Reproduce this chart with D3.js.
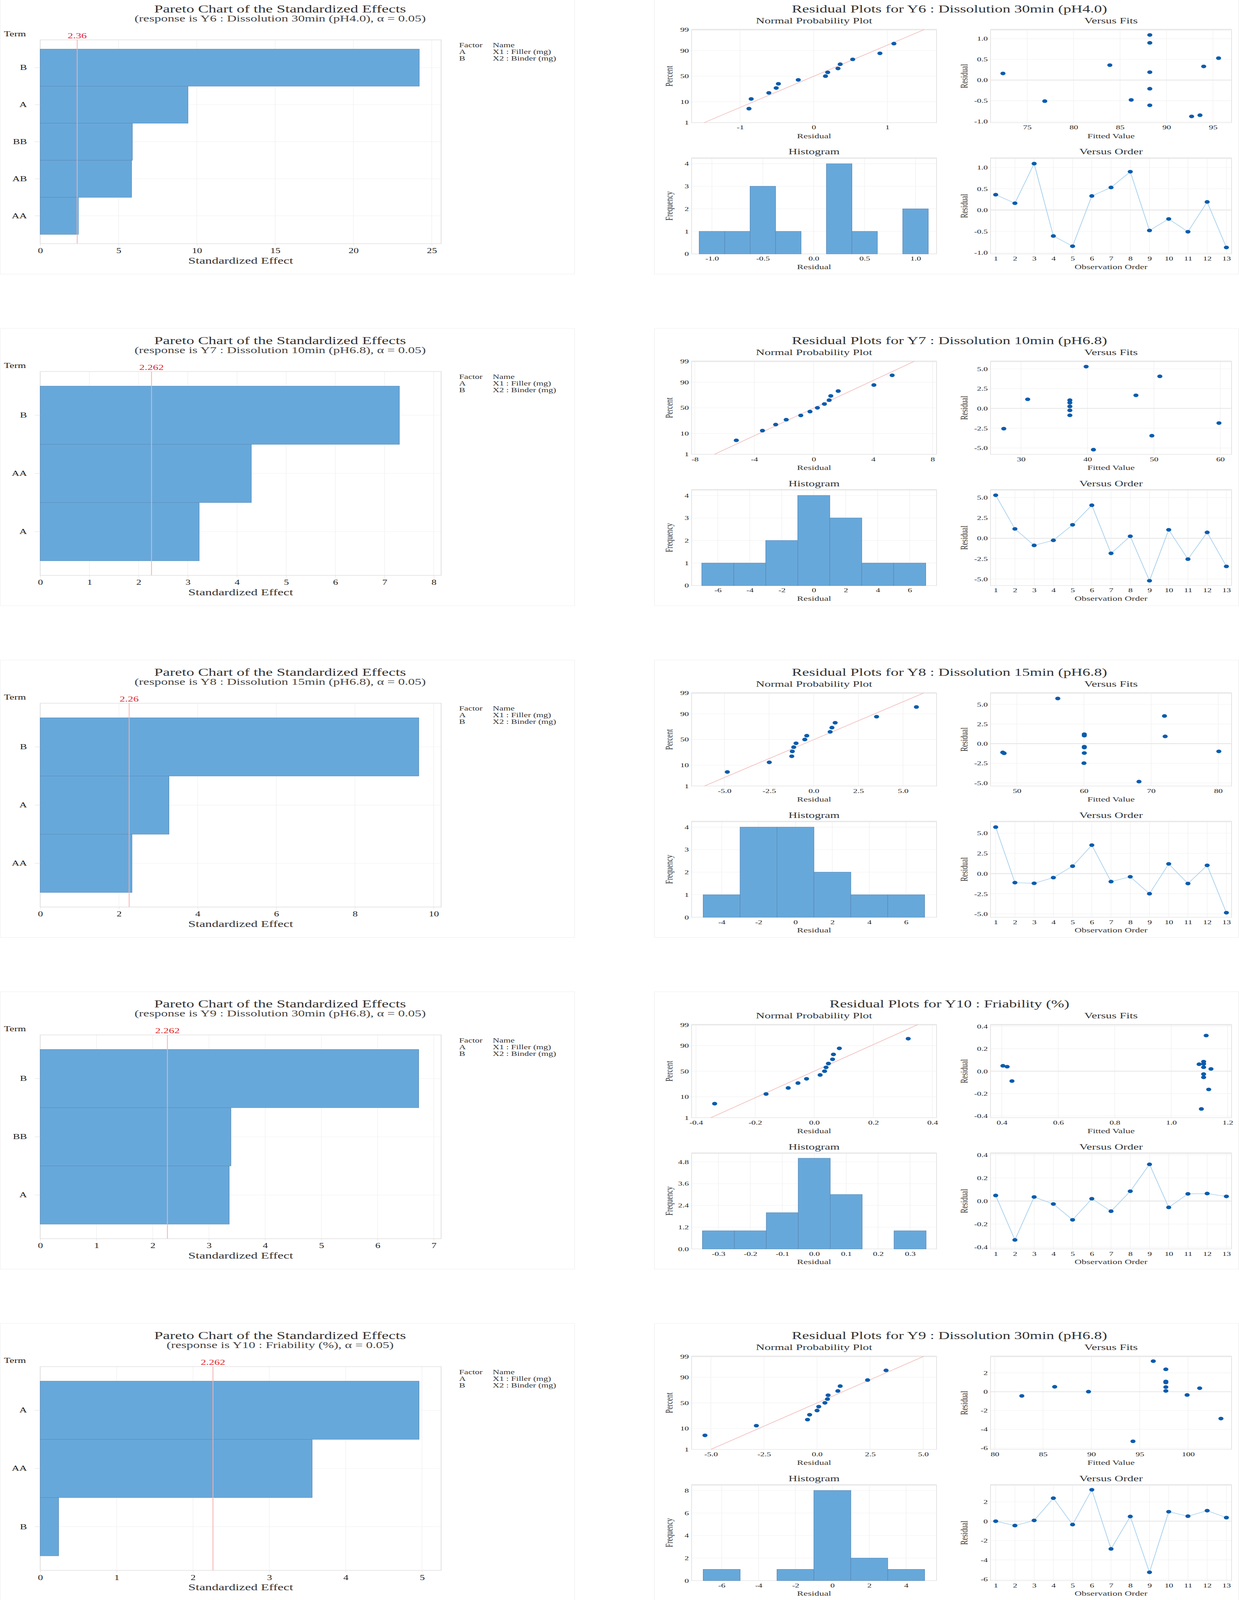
<!DOCTYPE html>
<html>
<head>
<meta charset="utf-8">
<script src="https://cdn.jsdelivr.net/npm/d3@7"></script>
<style>
html,body{margin:0;padding:0;background:#fff;overflow:hidden}
svg{display:block}
svg text{font-family:"Liberation Serif","Times New Roman",serif}
</style>
</head>
<body>
<script>
// ---- pareto charts (left column) ----
var paretoResponses=["Y6 : Dissolution 30min (pH4.0)","Y7 : Dissolution 10min (pH6.8)","Y8 : Dissolution 15min (pH6.8)","Y9 : Dissolution 30min (pH6.8)","Y10 : Friability (%)"];
var paretoTerms=[["B","A","BB","AB","AA"],["B","AA","A"],["B","A","AA"],["B","BB","A"],["A","AA","B"]];
var paretoEffects=[[24.2,9.43,5.88,5.83,2.43],[7.30,4.29,3.23],[9.62,3.27,2.33],[6.73,3.39,3.36],[4.96,3.56,0.24]];
var paretoCritical=[2.36,2.262,2.26,2.262,2.262];
var paretoCriticalLabels=["2.36","2.262","2.26","2.262","2.262"];
var paretoMax=[25.6,8.15,10.19,7.13,5.25];
var paretoTicks=[[0,5,10,15,20,25],[0,1,2,3,4,5,6,7,8],[0,2,4,6,8,10],[0,1,2,3,4,5,6,7],[0,1,2,3,4,5]];
var legendRows=[["Factor","Name"],["A","X1 : Filler (mg)"],["B","X2 : Binder (mg)"]];

// ---- residual plots (right column) ----
var residualResponses=["Y6 : Dissolution 30min (pH4.0)","Y7 : Dissolution 10min (pH6.8)","Y8 : Dissolution 15min (pH6.8)","Y10 : Friability (%)","Y9 : Dissolution 30min (pH6.8)"];
var residuals=[
  [0.36,0.16,1.09,-0.61,-0.85,0.33,0.53,0.90,-0.48,-0.21,-0.51,0.19,-0.88],
  [5.28,1.15,-0.87,-0.25,1.65,4.05,-1.85,0.25,-5.21,1.04,-2.56,0.72,-3.45],
  [5.75,-1.12,-1.20,-0.50,0.92,3.52,-0.99,-0.39,-2.49,1.20,-1.23,1.02,-4.84],
  [0.048,-0.337,0.035,-0.026,-0.163,0.020,-0.088,0.085,0.318,-0.055,0.062,0.065,0.040],
  [0.00,-0.45,0.08,2.38,-0.35,3.25,-2.86,0.49,-5.28,0.98,0.52,1.09,0.37]
];
var fitted=[
  [83.9,72.4,88.2,88.2,93.6,94.0,95.6,88.2,86.2,88.2,76.9,88.2,92.7],
  [39.8,31.0,37.35,37.35,47.3,50.9,59.8,37.35,40.9,37.35,27.4,37.35,49.7],
  [56.1,47.9,60.05,60.05,72.1,72.0,80.1,60.05,60.0,60.05,48.1,60.05,68.2],
  [0.404,1.107,1.115,1.115,1.133,1.141,0.436,1.115,1.124,1.115,1.099,1.115,0.419],
  [89.7,82.8,97.7,97.7,99.9,96.4,103.4,97.7,94.3,97.7,86.2,97.7,101.2]
];
var nppPercent=[5.2,12.7,20.1,27.6,35.1,42.5,50,57.5,64.9,72.4,79.9,87.3,94.8];
var nppYTicks=[1,10,50,90,99];
var nppLine=[[-1.49,1.50],[-6.69,6.77],[-6.12,6.16],[-0.350,0.350],[-5.0,5.02]];
var nppXDomain=[[-1.66,1.67],[-8.22,8.27],[-6.84,6.88],[-0.415,0.414],[-5.91,5.63]];
var nppXTicks=[[-1,0,1],[-8,-4,0,4,8],[-5,-2.5,0,2.5,5],[-0.4,-0.2,0,0.2,0.4],[-5,-2.5,0,2.5,5]];
var nppXFormat=["d","d",".1f",".1f",".1f"];
var fitsXDomain=[[71.06,97.0],[25.4,61.7],[46.07,82.0],[0.36,1.214],[79.56,104.5]];
var fitsXTicks=[[75,80,85,90,95],[30,40,50,60],[50,60,70,80],[0.4,0.6,0.8,1.0,1.2],[80,85,90,95,100]];
var fitsXFormat=["d","d","d",".1f","d"];
var residYDomain=[[-1.03,1.22],[-5.8,5.95],[-5.4,6.45],[-0.415,0.415],[-6.14,3.76]];
var residYTicks=[[-1,-0.5,0,0.5,1],[-5,-2.5,0,2.5,5],[-5,-2.5,0,2.5,5],[-0.4,-0.2,0,0.2,0.4],[-6,-4,-2,0,2]];
var residYFormat=[".1f",".1f",".1f",".1f","d"];
var histEdges=[
  [-1.125,-0.875,-0.625,-0.375,-0.125,0.125,0.375,0.625,0.875,1.125],
  [-7,-5,-3,-1,1,3,5,7],
  [-5,-3,-1,1,3,5,7],
  [-0.35,-0.25,-0.15,-0.05,0.05,0.15,0.25,0.35],
  [-7,-5,-3,-1,1,3,5]
];
var histCounts=[[1,1,3,1,0,4,1,0,2],[1,1,2,4,3,1,1],[1,4,4,2,1,1],[1,1,2,5,3,0,1],[1,0,1,8,2,1]];
var histXDomain=[[-1.2,1.207],[-7.64,7.68],[-5.63,7.65],[-0.384,0.383],[-7.63,5.65]];
var histXTicks=[[-1,-0.5,0,0.5,1],[-6,-4,-2,0,2,4,6],[-4,-2,0,2,4,6],[-0.3,-0.2,-0.1,0,0.1,0.2,0.3],[-6,-4,-2,0,2,4]];
var histXFormat=[".1f","d","d",".1f","d"];
var histYMax=[4.25,4.25,4.25,5.28,8.5];
var histYTicks=[[0,1,2,3,4],[0,1,2,3,4],[0,1,2,3,4],[0,1.2,2.4,3.6,4.8],[0,2,4,6,8]];
var histYFormat=["d","d","d",".1f","d"];
var orderTicks=[1,2,3,4,5,6,7,8,9,10,11,12,13];

var W=3171,H=5779,rowStep=1198;
var barFill="#67a8da",barStroke="#5b8dbb",dotFill="#0a5cad",gridCol="#f1f1f1",frameCol="#e4e4e4";
var fmt=d3.formatLocale({decimal:".",thousands:",",grouping:[3],currency:["",""],minus:"-"}).format;

// fill the actual window with the full drawing
var vw=window.innerWidth||W, vh=window.innerHeight||H;
var svg=d3.select("body").append("svg").attr("width",vw).attr("height",vh)
  .attr("viewBox","0 0 "+W+" "+H).attr("preserveAspectRatio","none");

// inverse normal cdf (Acklam), used for the probability axis
function qnorm(p){
  var a=[-39.69683028665376,220.9460984245205,-275.9285104469687,138.3577518672690,-30.66479806614716,2.506628277459239],
      b=[-54.47609879822406,161.5858368580409,-155.6989798598866,66.80131188771972,-13.28068155288572],
      c=[-0.007784894002430293,-0.3223964580411365,-2.400758277161838,-2.549732539343734,4.374664141464968,2.938163982698783],
      d=[0.007784695709041462,0.3224671290700398,2.445134137142996,3.754408661907416];
  var pl=0.02425,q,r;
  if(p<pl){q=Math.sqrt(-2*Math.log(p));return (((((c[0]*q+c[1])*q+c[2])*q+c[3])*q+c[4])*q+c[5])/((((d[0]*q+d[1])*q+d[2])*q+d[3])*q+1);}
  if(p>1-pl){q=Math.sqrt(-2*Math.log(1-p));return -(((((c[0]*q+c[1])*q+c[2])*q+c[3])*q+c[4])*q+c[5])/((((d[0]*q+d[1])*q+d[2])*q+d[3])*q+1);}
  q=p-0.5;r=q*q;
  return (((((a[0]*r+a[1])*r+a[2])*r+a[3])*r+a[4])*r+a[5])*q/(((((b[0]*r+b[1])*r+b[2])*r+b[3])*r+b[4])*r+1);
}

function styleAxis(ax,size){
  ax.select(".domain").remove();
  ax.selectAll(".tick line").attr("stroke","#d8d8d8");
  ax.selectAll(".tick text").attr("font-size",size).attr("fill","#222")
    .style("font-family",'"Liberation Serif","Times New Roman",serif');
}

function txt(g,x,y,s,size,anchor,fill){
  return g.append("text").attr("x",x).attr("y",y).attr("font-size",size)
    .attr("text-anchor",anchor||"middle").attr("fill",fill||"#333").text(s);
}

// ---------- Pareto chart ----------
function drawPareto(g,i){
  var x0=103,x1=1129,y0=144,y1=880;
  g.append("rect").attr("x",0.5).attr("y",-12).attr("width",1470).attr("height",1002)
    .attr("fill","none").attr("stroke","#f3f3f3").attr("stroke-width",2);
  txt(g,717,45,"Pareto Chart of the Standardized Effects",40,"middle","#333");
  txt(g,717,77,"(response is "+paretoResponses[i]+", \u03b1 = 0.05)",34,"middle","#444");
  txt(g,10,131,"Term",27,"start","#222");

  var x=d3.scaleLinear().domain([0,paretoMax[i]]).range([x0,x1]);
  var y=d3.scaleBand().domain(paretoTerms[i]).range([y0,y1]).paddingInner(0).paddingOuter(0.25);

  g.selectAll(".vg").data(paretoTicks[i]).enter().append("line")
    .attr("x1",function(d){return x(d);}).attr("x2",function(d){return x(d);})
    .attr("y1",y0).attr("y2",y1).attr("stroke",gridCol).attr("stroke-width",1.5);
  g.selectAll(".hg").data(paretoTerms[i]).enter().append("line")
    .attr("x1",x0).attr("x2",x1)
    .attr("y1",function(d){return y(d)+y.bandwidth()/2;}).attr("y2",function(d){return y(d)+y.bandwidth()/2;})
    .attr("stroke",gridCol).attr("stroke-width",1.5);
  g.append("rect").attr("x",x0).attr("y",y0).attr("width",x1-x0).attr("height",y1-y0)
    .attr("fill","none").attr("stroke",frameCol).attr("stroke-width",2.5);

  g.selectAll(".bar").data(paretoTerms[i]).enter().append("rect")
    .attr("x",x(0)).attr("y",function(d){return y(d);})
    .attr("width",function(d,j){return x(paretoEffects[i][j])-x(0);})
    .attr("height",y.bandwidth())
    .attr("fill",barFill).attr("stroke",barStroke).attr("stroke-width",1.5);

  g.append("line").attr("x1",x(paretoCritical[i])).attr("x2",x(paretoCritical[i]))
    .attr("y1",y0).attr("y2",y1).attr("stroke","#f5b0b0").attr("stroke-width",2);
  txt(g,x(paretoCritical[i]),138,paretoCriticalLabels[i],28,"middle","#e0262b");

  var xa=g.append("g").attr("transform","translate(0,"+y1+")")
    .call(d3.axisBottom(x).tickValues(paretoTicks[i]).tickFormat(fmt("d")).tickSize(8).tickPadding(8));
  styleAxis(xa,26);
  var ya=g.append("g").attr("transform","translate("+x0+",0)")
    .call(d3.axisLeft(y).tickSize(14).tickPadding(20));
  styleAxis(ya,27);
  txt(g,616,952,"Standardized Effect",34,"middle","#333");

  legendRows.forEach(function(r,k){
    txt(g,1175,171+k*24,r[0],23.5,"start","#333");
    txt(g,1261,171+k*24,r[1],23.5,"start","#333");
  });
}

// ---------- residual panels ----------
function panelBox(g,x0,x1,y0,y1){
  g.append("rect").attr("x",x0).attr("y",y0).attr("width",x1-x0).attr("height",y1-y0)
    .attr("fill","none").attr("stroke",frameCol).attr("stroke-width",2);
  g.append("line").attr("x1",x0).attr("x2",x1).attr("y1",y0).attr("y2",y0)
    .attr("stroke","#e8e8e8").attr("stroke-width",5);
}
function gridX(g,sc,ticks,y0,y1){
  g.selectAll(null).data(ticks).enter().append("line")
    .attr("x1",function(d){return sc(d);}).attr("x2",function(d){return sc(d);})
    .attr("y1",y0).attr("y2",y1).attr("stroke",gridCol).attr("stroke-width",1.5);
}
function gridY(g,sc,ticks,x0,x1){
  g.selectAll(null).data(ticks).enter().append("line")
    .attr("y1",function(d){return sc(d);}).attr("y2",function(d){return sc(d);})
    .attr("x1",x0).attr("x2",x1).attr("stroke",gridCol).attr("stroke-width",1.5);
}
function bottomAxis(g,sc,ticks,f,y){
  var a=g.append("g").attr("transform","translate(0,"+y+")")
    .call(d3.axisBottom(sc).tickValues(ticks).tickFormat(f).tickSize(0).tickPadding(9));
  styleAxis(a,22);
}
function leftAxis(g,sc,ticks,f,x){
  var a=g.append("g").attr("transform","translate("+x+",0)")
    .call(d3.axisLeft(sc).tickValues(ticks).tickFormat(f).tickSize(0).tickPadding(7));
  styleAxis(a,22);
}
function yTitle(g,x,y,s){
  g.append("text").attr("transform","translate("+x+","+y+") rotate(-90)")
    .attr("text-anchor","middle").attr("dy","0.35em").attr("font-size",25).attr("fill","#333").text(s);
}

function drawResiduals(g,i){
  var L0=1770,L1=2397,R0=2535,R1=3152,T0=107,T1=443,B0=571,B1=917;
  g.append("rect").attr("x",1675).attr("y",-12).attr("width",1495).attr("height",1002)
    .attr("fill","none").attr("stroke","#f3f3f3").attr("stroke-width",2);
  txt(g,2430,45,"Residual Plots for "+residualResponses[i],40,"middle","#333");
  txt(g,(L0+L1)/2,84,"Normal Probability Plot",31,"middle","#333");
  txt(g,(R0+R1)/2,84,"Versus Fits",31,"middle","#333");
  txt(g,(L0+L1)/2,558,"Histogram",31,"middle","#333");
  txt(g,(R0+R1)/2,558,"Versus Order",31,"middle","#333");

  var res=residuals[i];

  // normal probability plot
  var nx=d3.scaleLinear().domain(nppXDomain[i]).range([L0,L1]);
  var nz=d3.scaleLinear().domain([qnorm(0.01),qnorm(0.99)]).range([T1,T0]);
  var zt=nppYTicks.map(function(p){return qnorm(p/100);});
  gridX(g,nx,nppXTicks[i],T0,T1);
  gridY(g,nz,zt,L0,L1);
  panelBox(g,L0,L1,T0,T1);
  g.append("line").attr("x1",nx(nppLine[i][0])).attr("y1",nz(qnorm(0.01)))
    .attr("x2",nx(nppLine[i][1])).attr("y2",nz(qnorm(0.99)))
    .attr("stroke","#f3b9b9").attr("stroke-width",2);
  var sorted=res.slice().sort(d3.ascending);
  g.selectAll(null).data(sorted).enter().append("circle")
    .attr("cx",function(d){return nx(d);})
    .attr("cy",function(d,j){return nz(qnorm(nppPercent[j]/100));})
    .attr("r",6.5).attr("fill",dotFill);
  bottomAxis(g,nx,nppXTicks[i],fmt(nppXFormat[i]),T1);
  leftAxis(g,nz,zt,function(d,k){return nppYTicks[k];},L0);
  txt(g,(L0+L1)/2,499,"Residual",25,"middle","#333");
  yTitle(g,1712,(T0+T1)/2,"Percent");

  // versus fits
  var fx=d3.scaleLinear().domain(fitsXDomain[i]).range([R0,R1]);
  var ry=d3.scaleLinear().domain(residYDomain[i]).range([T1,T0]);
  gridX(g,fx,fitsXTicks[i],T0,T1);
  gridY(g,ry,residYTicks[i],R0,R1);
  panelBox(g,R0,R1,T0,T1);
  g.append("line").attr("x1",R0).attr("x2",R1).attr("y1",ry(0)).attr("y2",ry(0))
    .attr("stroke","#e6e6e6").attr("stroke-width",3);
  g.selectAll(null).data(res).enter().append("circle")
    .attr("cx",function(d,j){return fx(fitted[i][j]);})
    .attr("cy",function(d){return ry(d);})
    .attr("r",6.5).attr("fill",dotFill);
  bottomAxis(g,fx,fitsXTicks[i],fmt(fitsXFormat[i]),T1);
  leftAxis(g,ry,residYTicks[i],fmt(residYFormat[i]),R0);
  txt(g,(R0+R1)/2,499,"Fitted Value",25,"middle","#333");
  yTitle(g,2467,(T0+T1)/2,"Residual");

  // histogram
  var hx=d3.scaleLinear().domain(histXDomain[i]).range([L0,L1]);
  var hy=d3.scaleLinear().domain([0,histYMax[i]]).range([B1,B0]);
  gridX(g,hx,histXTicks[i],B0,B1);
  gridY(g,hy,histYTicks[i],L0,L1);
  panelBox(g,L0,L1,B0,B1);
  var edges=histEdges[i];
  g.selectAll(null).data(histCounts[i]).enter().append("rect")
    .attr("x",function(d,j){return hx(edges[j]);})
    .attr("width",function(d,j){return hx(edges[j+1])-hx(edges[j]);})
    .attr("y",function(d){return hy(d);})
    .attr("height",function(d){return hy(0)-hy(d);})
    .attr("fill",barFill).attr("stroke",function(d){return d>0?barStroke:"#9a9a9a";}).attr("stroke-width",1.5);
  bottomAxis(g,hx,histXTicks[i],fmt(histXFormat[i]),B1);
  leftAxis(g,hy,histYTicks[i],fmt(histYFormat[i]),L0);
  txt(g,(L0+L1)/2,972,"Residual",25,"middle","#333");
  yTitle(g,1712,(B0+B1)/2,"Frequency");

  // versus order
  var ox=d3.scaleLinear().domain([0.73,13.27]).range([R0,R1]);
  var oy=d3.scaleLinear().domain(residYDomain[i]).range([B1,B0]);
  gridX(g,ox,orderTicks,B0,B1);
  gridY(g,oy,residYTicks[i],R0,R1);
  panelBox(g,R0,R1,B0,B1);
  g.append("line").attr("x1",R0).attr("x2",R1).attr("y1",oy(0)).attr("y2",oy(0))
    .attr("stroke","#e6e6e6").attr("stroke-width",3);
  var ln=d3.line().x(function(d,j){return ox(orderTicks[j]);}).y(function(d){return oy(d);});
  g.append("path").datum(res).attr("d",ln).attr("fill","none")
    .attr("stroke","#a9d1ee").attr("stroke-width",2);
  g.selectAll(null).data(res).enter().append("circle")
    .attr("cx",function(d,j){return ox(orderTicks[j]);})
    .attr("cy",function(d){return oy(d);})
    .attr("r",6.5).attr("fill",dotFill);
  bottomAxis(g,ox,orderTicks,fmt("d"),B1);
  leftAxis(g,oy,residYTicks[i],fmt(residYFormat[i]),R0);
  txt(g,(R0+R1)/2,972,"Observation Order",25,"middle","#333");
  yTitle(g,2467,(B0+B1)/2,"Residual");
}

for(var i=0;i<5;i++){
  var g=svg.append("g").attr("transform","translate(0,"+(i*rowStep)+")");
  drawPareto(g,i);
  drawResiduals(g,i);
}
</script>
</body>
</html>
